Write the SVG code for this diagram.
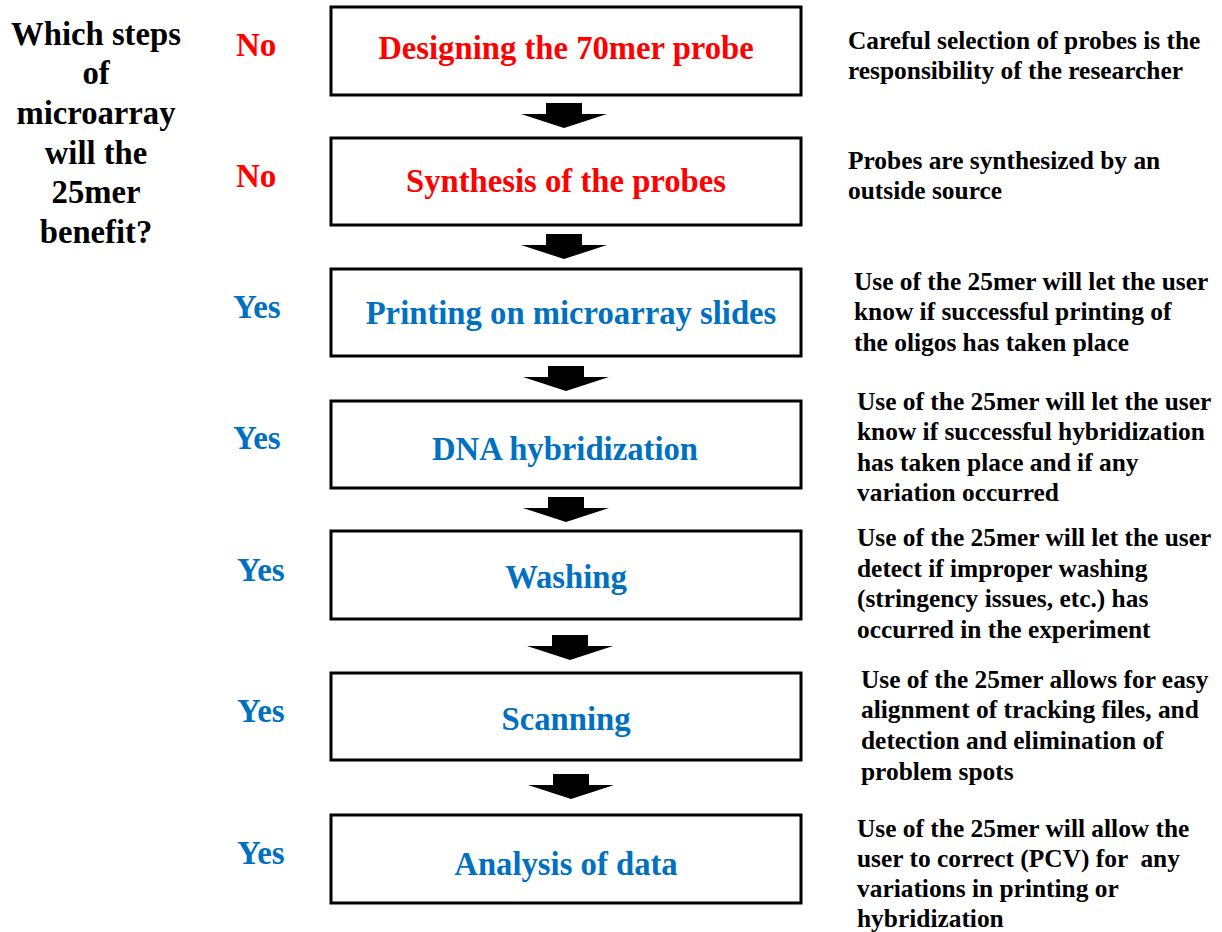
<svg xmlns="http://www.w3.org/2000/svg" width="1222" height="932" viewBox="0 0 1222 932" font-family="'Liberation Serif', 'Times New Roman', Times, serif" font-weight="bold">
<style>
.box{fill:#fff;stroke:#000;stroke-width:3}
.bt{font-size:32.7px;text-anchor:middle}
.red{fill:#ff0000}
.blue{fill:#0070c0}
.ans{font-size:33px}
.desc{font-size:25.4px;fill:#000}
.title{font-size:32.7px;text-anchor:middle;fill:#000}
</style>
<defs>
<path id="arr" d="M-18,0 H18 V11 H43 L0,25 L-43,11 H-18 Z" fill="#000"/>
</defs>
<rect width="1222" height="932" fill="#fff"/>
<g id="title">
<text class="title" x="96" y="45">Which steps</text>
<text class="title" x="96" y="84">of</text>
<text class="title" x="96" y="124">microarray</text>
<text class="title" x="96" y="164">will the</text>
<text class="title" x="96" y="203">25mer</text>
<text class="title" x="96" y="243">benefit?</text>
</g>
<g id="connectors">
<use href="#arr" x="564" y="103"/>
<use href="#arr" x="564" y="234"/>
<use href="#arr" x="566" y="366"/>
<use href="#arr" x="566" y="497"/>
<use href="#arr" x="570" y="635"/>
<use href="#arr" x="571" y="774"/>
</g>
<g id="step1">
<rect class="box" x="331" y="7" width="470" height="88"/>
<text class="bt red" x="566" y="59">Designing the 70mer probe</text>
<text class="ans red" x="236" y="56">No</text>
<text class="desc" x="848" y="49">Careful selection of probes is the</text>
<text class="desc" x="848" y="79">responsibility of the researcher</text>
</g>
<g id="step2">
<rect class="box" x="331" y="138" width="470" height="87"/>
<text class="bt red" x="566" y="192">Synthesis of the probes</text>
<text class="ans red" x="236" y="187">No</text>
<text class="desc" x="848" y="169">Probes are synthesized by an</text>
<text class="desc" x="848" y="199">outside source</text>
</g>
<g id="step3">
<rect class="box" x="331" y="269" width="470" height="87"/>
<text class="bt blue" x="571" y="324">Printing on microarray slides</text>
<text class="ans blue" x="233" y="318">Yes</text>
<text class="desc" x="854" y="290">Use of the 25mer will let the user</text>
<text class="desc" x="854" y="320">know if successful printing of</text>
<text class="desc" x="854" y="351">the oligos has taken place</text>
</g>
<g id="step4">
<rect class="box" x="331" y="401" width="470" height="87"/>
<text class="bt blue" x="565" y="460">DNA hybridization</text>
<text class="ans blue" x="233" y="449">Yes</text>
<text class="desc" x="857" y="410">Use of the 25mer will let the user</text>
<text class="desc" x="857" y="440">know if successful hybridization</text>
<text class="desc" x="857" y="471">has taken place and if any</text>
<text class="desc" x="857" y="501">variation occurred</text>
</g>
<g id="step5">
<rect class="box" x="331" y="531" width="470" height="88"/>
<text class="bt blue" x="566" y="588">Washing</text>
<text class="ans blue" x="237" y="581">Yes</text>
<text class="desc" x="857" y="546">Use of the 25mer will let the user</text>
<text class="desc" x="857" y="577">detect if improper washing</text>
<text class="desc" x="857" y="607">(stringency issues, etc.) has</text>
<text class="desc" x="857" y="638">occurred in the experiment</text>
</g>
<g id="step6">
<rect class="box" x="331" y="673" width="470" height="87"/>
<text class="bt blue" x="566" y="730">Scanning</text>
<text class="ans blue" x="237" y="722">Yes</text>
<text class="desc" x="861" y="688">Use of the 25mer allows for easy</text>
<text class="desc" x="861" y="718">alignment of tracking files, and</text>
<text class="desc" x="861" y="749">detection and elimination of</text>
<text class="desc" x="861" y="780">problem spots</text>
</g>
<g id="step7">
<rect class="box" x="331" y="815" width="470" height="88"/>
<text class="bt blue" x="566" y="875">Analysis of data</text>
<text class="ans blue" x="237" y="864">Yes</text>
<text class="desc" x="857" y="837">Use of the 25mer will allow the</text>
<text class="desc" x="857" y="867" xml:space="preserve">user to correct (PCV) for  any</text>
<text class="desc" x="857" y="897">variations in printing or</text>
<text class="desc" x="857" y="927">hybridization</text>
</g>
</svg>
